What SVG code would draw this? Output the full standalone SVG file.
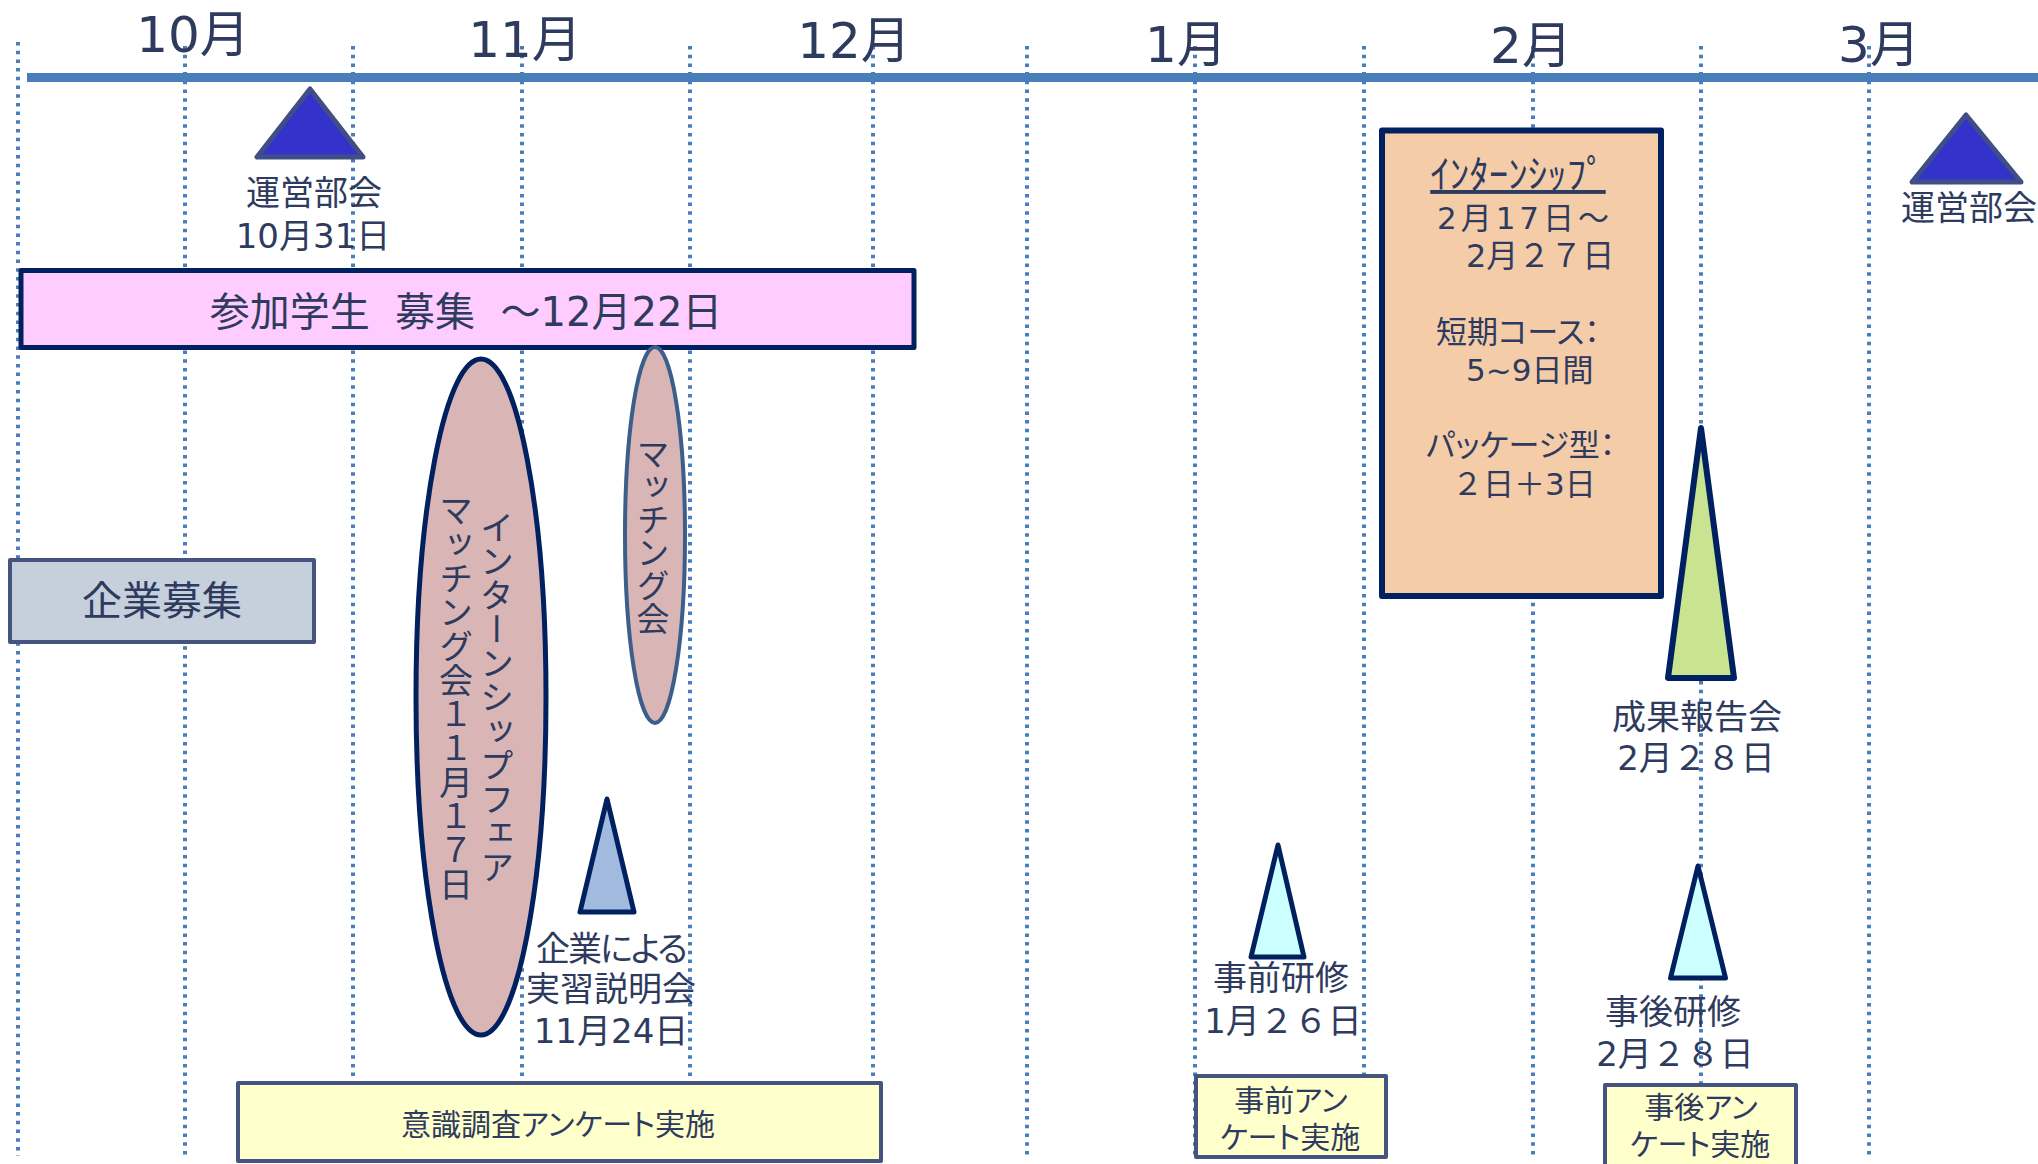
<svg xmlns="http://www.w3.org/2000/svg" width="2038" height="1164" viewBox="0 0 2038 1164">
<style>
text{font-family:"DejaVu Sans","Noto Sans CJK JP",sans-serif;fill:#2e3b5e;}
.m{font-size:50px;text-anchor:middle;}
.l{font-size:34px;text-anchor:middle;}
.s{font-size:30px;text-anchor:middle;font-feature-settings:"palt" 1;}
.o{font-size:31px;}
.p{font-feature-settings:"palt" 1;}
.v{writing-mode:vertical-rl;text-anchor:middle;font-family:"Noto Sans CJK JP",sans-serif;}
.grid{stroke:#4a7ebb;stroke-width:4;stroke-dasharray:3.5 5.2;fill:none;}
.nv{stroke:#002060;stroke-linejoin:round;}
.sl{stroke:#44547e;stroke-linejoin:round;}
</style>
<g id="grid">
<line class="grid" x1="18" y1="42" x2="18" y2="1156"/>
<line class="grid" x1="185" y1="46" x2="185" y2="1156"/>
<line class="grid" x1="353" y1="46" x2="353" y2="1156"/>
<line class="grid" x1="522" y1="46" x2="522" y2="1156"/>
<line class="grid" x1="690" y1="46" x2="690" y2="1156"/>
<line class="grid" x1="873" y1="46" x2="873" y2="1156"/>
<line class="grid" x1="1027" y1="46" x2="1027" y2="1156"/>
<line class="grid" x1="1195" y1="46" x2="1195" y2="1156"/>
<line class="grid" x1="1364" y1="46" x2="1364" y2="1156"/>
<line class="grid" x1="1533" y1="46" x2="1533" y2="1156"/>
<line class="grid" x1="1701" y1="46" x2="1701" y2="1156"/>
<line class="grid" x1="1869" y1="46" x2="1869" y2="1156"/>
<line x1="27" y1="77.5" x2="2038" y2="77.5" stroke="#4a7ebb" stroke-width="9"/>
</g>
<g id="months">
<text class="m" x="193" y="52">10月</text>
<text class="m" x="525" y="57">11月</text>
<text class="m" x="854" y="58">12月</text>
<text class="m" x="1186" y="62">1月</text>
<text class="m" x="1531" y="63">2月</text>
<text class="m" x="1879" y="62">3月</text>
</g>
<g id="unei1">
<polygon points="310,89 257,157 363,157" fill="#3333cc" stroke="#3f4f86" stroke-width="5" stroke-linejoin="round"/>
<text class="l" x="314" y="205">運営部会</text>
<text class="l" x="313" y="248">10月31日</text>
</g>
<g id="unei2">
<polygon points="1966,115 1912,182 2021,182" fill="#3333cc" stroke="#3f4f86" stroke-width="5" stroke-linejoin="round"/>
<text class="l" x="1901" y="220" style="text-anchor:start">運営部会</text>
</g>
<g id="boshu">
<rect x="21" y="270.5" width="893" height="77" fill="#ffccff" class="nv" stroke-width="5"/>
<text x="466" y="326" font-size="40" text-anchor="middle" xml:space="preserve">参加学生  募集  ～12月22日</text>
</g>
<g id="kigyo">
<rect x="10" y="560" width="304" height="82" fill="#c6d0dd" class="sl" stroke-width="4"/>
<text x="162" y="615" font-size="40" text-anchor="middle">企業募集</text>
</g>
<g id="fair">
<ellipse cx="481" cy="697" rx="65" ry="338" fill="#d9b6b5" class="nv" stroke-width="5"/>
<text class="v" x="497" y="697" font-size="34">インターンシップフェア</text>
<text class="v" x="456" y="697" font-size="34">マッチング会１１月１７日</text>
</g>
<g id="matching">
<ellipse cx="655" cy="535" rx="30" ry="188" fill="#d9b6b5" stroke="#3b5f8a" stroke-width="4"/>
<text class="v" x="653" y="536" font-size="33">マッチング会</text>
</g>
<g id="setsumei">
<polygon points="607,799 580,912 634,912" fill="#a3badf" class="nv" stroke-width="5"/>
<text class="l p" x="611" y="961" style="letter-spacing:-2px">企業による</text>
<text class="l" x="611" y="1001">実習説明会</text>
<text class="l" x="611" y="1043">11月24日</text>
</g>
<g id="ishiki">
<rect x="238" y="1083" width="643" height="78" fill="#ffffcc" class="sl" stroke-width="4"/>
<text class="s" x="558" y="1135">意識調査アンケート実施</text>
</g>
<g id="jizen">
<polygon points="1278,845 1251,957 1304,957" fill="#ccffff" class="nv" stroke-width="5"/>
<text class="l" x="1281" y="990">事前研修</text>
<text class="l" x="1283" y="1033">1月２６日</text>
</g>
<g id="jizen-q">
<rect x="1196" y="1076" width="190" height="81" fill="#ffffcc" class="sl" stroke-width="4"/>
<text class="s" x="1291" y="1111">事前アン</text>
<text class="s" x="1290" y="1148">ケート実施</text>
</g>
<g id="internship">
<rect x="1382" y="130.5" width="279" height="465.5" fill="#f5cca8" class="nv" stroke-width="6"/>
<text x="1518" y="188" font-size="39" text-anchor="middle" text-decoration="underline">ｲﾝﾀｰﾝｼｯﾌﾟ</text>
<text class="o" x="1437" y="229" textLength="172" lengthAdjust="spacing">2月17日～</text>
<text class="o" x="1466" y="267" style="font-size:32px">2月２７日</text>
<text class="o p" x="1436" y="343">短期コース：</text>
<text class="o" x="1466" y="381">5~9日間</text>
<text class="o p" x="1426" y="456">パッケージ型：</text>
<text class="o" x="1452" y="495">２日＋3日</text>
</g>
<g id="seika">
<polygon points="1701,428 1668,678 1734,678" fill="#c8e490" class="nv" stroke-width="6"/>
<text class="l" x="1697" y="729">成果報告会</text>
<text class="l" x="1696" y="770">2月２８日</text>
</g>
<g id="jigo">
<polygon points="1698,866 1670.5,978 1725.5,978" fill="#ccffff" class="nv" stroke-width="5"/>
<text class="l" x="1673" y="1024">事後研修</text>
<text class="l" x="1675" y="1066">2月２８日</text>
</g>
<g id="jigo-q">
<rect x="1605" y="1085" width="191" height="90" fill="#ffffcc" class="sl" stroke-width="4"/>
<text class="s" x="1701" y="1118">事後アン</text>
<text class="s" x="1700" y="1155">ケート実施</text>
</g>
<g id="connectors"></g>
</svg>
